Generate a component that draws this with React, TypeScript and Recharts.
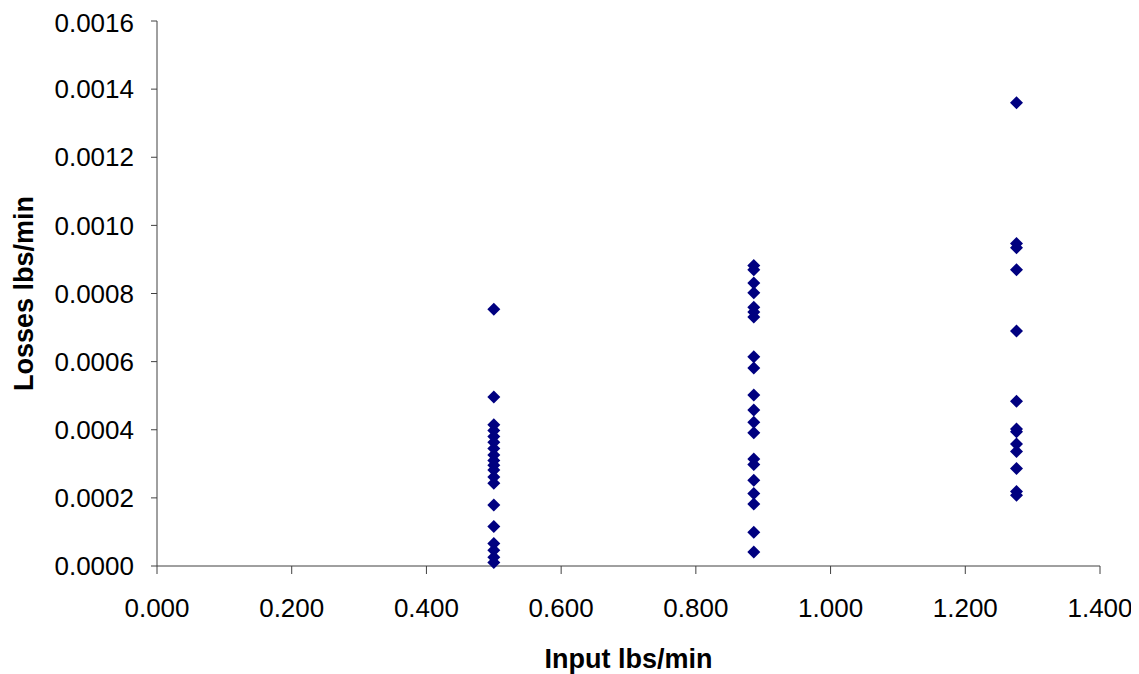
import { ScatterChart, Scatter, XAxis, YAxis } from "recharts"

// input rates (lbs/min) of the three test groups
const inputLow = 0.5
const inputMid = 0.886
const inputHigh = 1.276

// losses, lbs/min
const lossesLow = [
  0.000754, 0.000496, 0.000415, 0.000398, 0.00038, 0.000363, 0.000345, 0.000326, 0.00031, 0.000296,
  0.000282, 0.000261, 0.000243, 0.000179, 0.000116, 0.000066, 0.000046, 0.000026, 0.00001,
]
const lossesMid = [
  0.000882, 0.00087, 0.000831, 0.000802, 0.00076, 0.000746, 0.000731, 0.000614, 0.000581, 0.000502,
  0.000458, 0.000422, 0.000391, 0.000314, 0.000298, 0.000252, 0.000213, 0.000182, 0.000099, 0.000041,
]
const lossesHigh = [
  0.00136, 0.000947, 0.000934, 0.00087, 0.00069, 0.000484, 0.000402, 0.000394, 0.000358, 0.000336,
  0.000286, 0.000219, 0.000208,
]

const xTicks = [0, 0.2, 0.4, 0.6, 0.8, 1.0, 1.2, 1.4]
const yTicks = [0, 0.0002, 0.0004, 0.0006, 0.0008, 0.001, 0.0012, 0.0014, 0.0016]

const points = [
  ...lossesLow.map((y) => ({ x: inputLow, y })),
  ...lossesMid.map((y) => ({ x: inputMid, y })),
  ...lossesHigh.map((y) => ({ x: inputHigh, y })),
]

const axisColor = "#404040"
const font = "Arial, 'Liberation Sans', sans-serif"

function Diamond(props: any) {
  const { cx, cy } = props
  const r = 6.5
  return (
    <polygon
      points={`${cx},${cy - r} ${cx + r},${cy} ${cx},${cy + r} ${cx - r},${cy}`}
      fill="#000080"
    />
  )
}

export default function App() {
  return (
    <div style={{ fontFamily: font }}>
      <ScatterChart width={1131} height={666} margin={{ top: 13, right: 39, bottom: 0, left: 0 }}>
        <XAxis
          type="number"
          dataKey="x"
          domain={[0, 1.4]}
          ticks={xTicks}
          tickFormatter={(v: number) => v.toFixed(3)}
          stroke={axisColor}
          tick={{ fill: "#000", fontSize: 26, fontFamily: font }}
          tickSize={8}
          tickMargin={25}
          height={108}
          label={{
            value: "Input lbs/min",
            position: "insideBottom",
            offset: 6,
            style: { fill: "#000", fontSize: 27, fontWeight: "bold", fontFamily: font },
          }}
        />
        <XAxis xAxisId="top" orientation="top" type="number" domain={[0, 1.4]} tick={false} tickLine={false} stroke={axisColor} height={0} />
        <YAxis
          type="number"
          dataKey="y"
          domain={[0, 0.0016]}
          ticks={yTicks}
          tickFormatter={(v: number) => v.toFixed(4)}
          stroke={axisColor}
          tick={{ fill: "#000", fontSize: 26, fontFamily: font }}
          tickSize={6}
          tickMargin={17}
          width={149}
          label={{
            value: "Losses lbs/min",
            angle: -90,
            position: "insideLeft",
            offset: 15,
            style: { textAnchor: "middle", fill: "#000", fontSize: 27, fontWeight: "bold", fontFamily: font },
          }}
        />
        <YAxis yAxisId="right" orientation="right" type="number" domain={[0, 0.0016]} tick={false} tickLine={false} stroke={axisColor} width={0} />
        <Scatter data={points} shape={<Diamond />} isAnimationActive={false} />
      </ScatterChart>
    </div>
  )
}
